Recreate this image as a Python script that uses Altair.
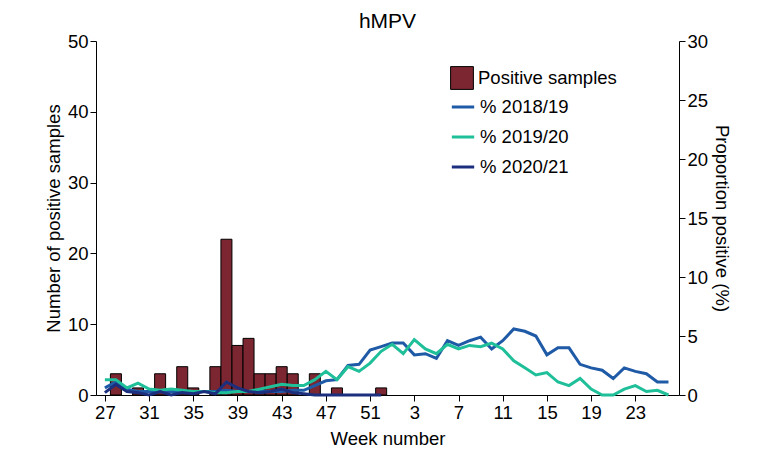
import pandas as pd
import altair as alt

# week index 0..51 -> weeks 27..52, 1..26
bar_idx = [1, 3, 5, 7, 8, 10, 11, 12, 13, 14, 15, 16, 17, 19, 21, 25]
bar_val = [3, 1, 3, 4, 1, 4, 22, 7, 8, 3, 3, 4, 3, 3, 1, 1]

pct_1819 = [0.6, 1.1, 0.5, 0.3, 0.3, 0.3, 0.3, 0.3, 0.3, 0.3, 0.3, 0.4, 0.3, 0.3, 0.3, 0.3,
            0.3, 0.4, 0.4, 0.8, 1.2, 1.3, 2.5, 2.6, 3.8, 4.1, 4.4, 4.4, 3.4, 3.5, 3.1, 4.6,
            4.2, 4.6, 4.9, 3.9, 4.6, 5.6, 5.4, 5.0, 3.4, 4.0, 4.0, 2.6, 2.3, 2.1, 1.4, 2.3,
            2.0, 1.8, 1.1, 1.1]
pct_1920 = [1.3, 1.3, 0.6, 1.0, 0.5, 0.4, 0.5, 0.4, 0.3, 0.3, 0.2, 0.2, 0.3, 0.3, 0.5, 0.7,
            0.9, 0.8, 0.8, 1.3, 2.0, 1.3, 2.4, 2.0, 2.7, 3.7, 4.3, 3.5, 4.7, 3.9, 3.5, 4.3,
            3.9, 4.2, 4.1, 4.4, 3.9, 2.9, 2.3, 1.7, 1.9, 1.1, 0.8, 1.4, 0.5, 0.0, 0.0, 0.5,
            0.8, 0.3, 0.4, 0.0]
pct_2021 = [0.2, 0.9, 0.3, 0.2, 0.0, 0.3, 0.0, 0.2, 0.1, 0.3, 0.1, 1.1, 0.6, 0.3, 0.2, 0.3,
            0.5, 0.2, 0.1, 0.0, 0.0, 0.0, 0.0, 0.0, 0.0, 0.0]
tick_idx = [0, 4, 8, 12, 16, 20, 24, 28, 32, 36, 40, 44, 48]

FONT = "Liberation Sans"

bars = pd.DataFrame({"idx": bar_idx, "n": bar_val, "s": "Positive samples"})
rows = []
for name, vals in [("% 2018/19", pct_1819), ("% 2019/20", pct_1920), ("% 2020/21", pct_2021)]:
    for i, v in enumerate(vals):
        rows.append({"idx": i, "pct": v, "s": name})
lines = pd.DataFrame(rows)

xscale = alt.Scale(domain=[-0.35, 51.5], nice=False, zero=False)
xaxis = alt.Axis(title="Week number", values=tick_idx, titlePadding=8,
                 labelExpr="(datum.value + 26) % 52 + 1", grid=False)

bar_chart = alt.Chart(bars).mark_bar(stroke="black", strokeWidth=1, width=11).encode(
    x=alt.X("idx:Q", scale=xscale, axis=xaxis),
    y=alt.Y("n:Q", scale=alt.Scale(domain=[0, 50]),
            axis=alt.Axis(title="Number of positive samples", values=[0, 10, 20, 30, 40, 50], grid=False)),
    fill=alt.Fill("s:N", scale=alt.Scale(range=["#7b2631"]),
                  legend=alt.Legend(title=None, orient="none", legendX=354, legendY=25,
                                    symbolType="square", symbolSize=520, symbolStrokeColor="black",
                                    symbolStrokeWidth=1, labelFontSize=18.5, labelFont=FONT)),
)

line_chart = alt.Chart(lines).mark_line(strokeWidth=3).encode(
    x=alt.X("idx:Q", scale=xscale, axis=xaxis),
    y=alt.Y("pct:Q", scale=alt.Scale(domain=[0, 30]),
            axis=alt.Axis(title="Proportion positive (%)", orient="right",
                          values=[0, 5, 10, 15, 20, 25, 30], grid=False)),
    color=alt.Color("s:N", scale=alt.Scale(domain=["% 2018/19", "% 2019/20", "% 2020/21"],
                                          range=["#1f5aa6", "#1fbf9a", "#1b2f7e"]),
                    legend=alt.Legend(title=None, orient="none", legendX=354, legendY=53,
                                      symbolType="stroke", symbolStrokeWidth=3, symbolSize=500,
                                      labelFontSize=18.5, labelFont=FONT, rowPadding=7)),
)

chart = alt.layer(bar_chart, line_chart).resolve_scale(
    y="independent", fill="independent", color="independent"
).properties(
    width=583, height=354,
    title=alt.TitleParams("hMPV", fontSize=21, font=FONT, fontWeight="normal", offset=0),
    padding={"left": 36, "top": 3, "right": 5, "bottom": 5},
).configure_axis(
    labelFont=FONT, titleFont=FONT, labelFontSize=18.5, titleFontSize=18.5,
    titleFontWeight="normal", labelColor="black", titleColor="black",
    domainColor="black", tickColor="black", tickSize=6,
).configure_view(stroke=None)

chart.save("out.html", embed_options={"renderer": "svg", "actions": False})
